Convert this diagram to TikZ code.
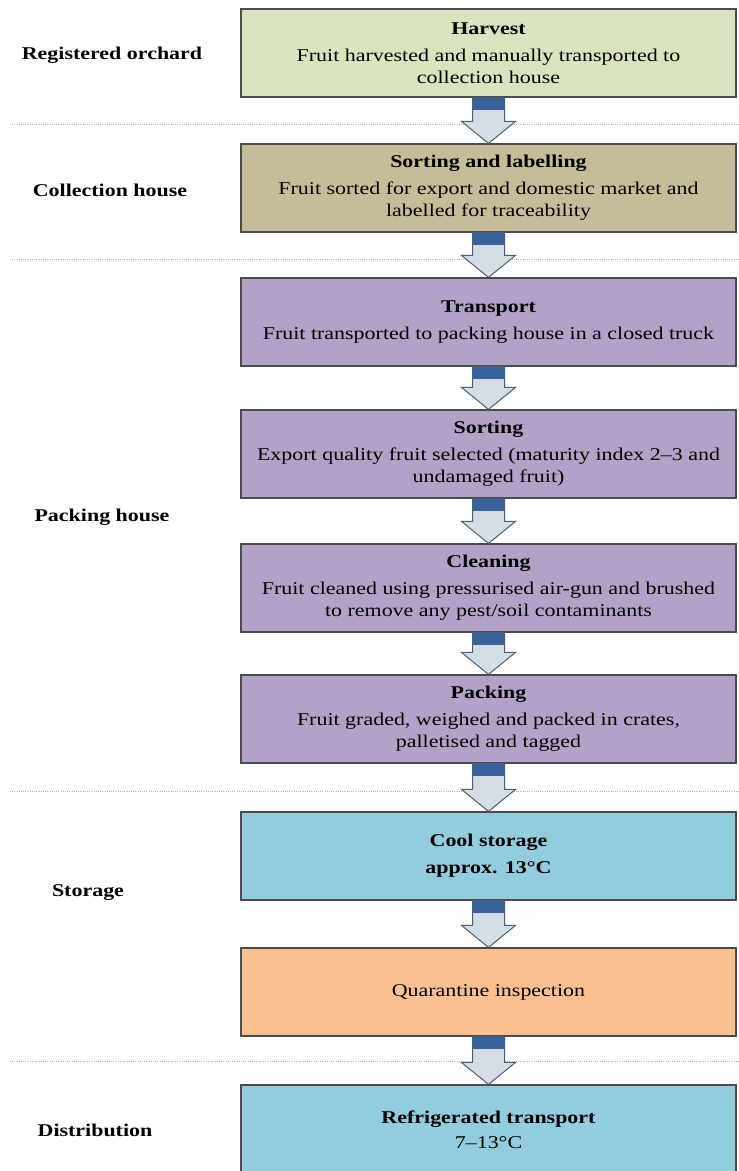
\documentclass[tikz,border=0pt]{standalone}
\usepackage{fontspec}
\setmainfont{Liberation Serif}[FakeStretch=1.22]
\usetikzlibrary{calc}
\definecolor{harvestc}{HTML}{D7E4BD}
\definecolor{collectc}{HTML}{C4BD97}
\definecolor{packc}{HTML}{B3A2C7}
\definecolor{coolc}{HTML}{93CDDD}
\definecolor{quarc}{HTML}{FAC090}
\definecolor{arrowline}{HTML}{4A6070}
\definecolor{arrowfill}{HTML}{D5DCE4}
\definecolor{arrowtopc}{HTML}{3A629A}
\tikzset{
  stage/.style={draw=black!70, line width=1.2pt, minimum width=495pt, minimum height=88pt,
    align=center, inner sep=2pt, font=\fontsize{18}{22}\selectfont},
  place/.style={font=\fontsize{18}{22}\selectfont\bfseries},
  sepline/.style={draw=gray!60, line width=0.8pt, dash pattern=on 1pt off 1.2pt},
  arrowbody/.style={draw=arrowline, fill=arrowfill, line width=1pt, line join=miter},
}
\newcommand{\stagearrow}[2]{%
  \draw[arrowbody] let \p1=(#1.south), \p2=(#2.north) in
    (\x1-16pt,\y1) -- (\x1-16pt,\y2+22pt) -- (\x1-27pt,\y2+22pt) -- (\x1,\y2)
    -- (\x1+27pt,\y2+22pt) -- (\x1+16pt,\y2+22pt) -- (\x1+16pt,\y1) -- cycle;
  \fill[arrowtopc] let \p1=(#1.south) in (\x1-15.5pt,\y1) rectangle (\x1+15.5pt,\y1-12pt);
}
\begin{document}
\begin{tikzpicture}[x=1pt, y=-1pt]
\path[fill=white, use as bounding box] (0,0) rectangle (739,1171);
% dotted separators
\draw[sepline] (10,124)--(739,124);
\draw[sepline] (10,259)--(739,259);
\draw[sepline] (10,791)--(739,791);
\draw[sepline] (10,1061)--(739,1061);
% stages
\node[stage, fill=harvestc] (harvest) at (488.5,53) {\textbf{Harvest}\\[5pt]Fruit harvested and manually transported to\\collection house};
\node[stage, fill=collectc] (labelling) at (488.5,188) {\textbf{Sorting and labelling}\\[5pt]Fruit sorted for export and domestic market and\\labelled for traceability};
\node[stage, fill=packc] (transport) at (488.5,322) {\textbf{Transport}\\[5pt]Fruit transported to packing house in a closed truck};
\node[stage, fill=packc] (sorting) at (488.5,454) {\textbf{Sorting}\\[5pt]Export quality fruit selected (maturity index 2--3 and\\undamaged fruit)};
\node[stage, fill=packc] (cleaning) at (488.5,588) {\textbf{Cleaning}\\[5pt]Fruit cleaned using pressurised air-gun and brushed\\to remove any pest/soil contaminants};
\node[stage, fill=packc] (packing) at (488.5,719) {\textbf{Packing}\\[5pt]Fruit graded, weighed and packed in crates,\\palletised and tagged};
\node[stage, fill=coolc] (storage) at (488.5,856) {\textbf{Cool storage}\\[5pt]\textbf{approx. 13°C}};
\node[stage, fill=quarc] (quarantine) at (488.5,992) {Quarantine inspection};
\node[stage, fill=coolc, minimum height=90pt] (refrig) at (488.5,1130) {\textbf{Refrigerated transport}\\[3pt]7--13°C};
% places
\node[place] (orchard) at (112,55) {Registered orchard};
\node[place] (collection) at (110,190) {Collection house};
\node[place] (packhouse) at (102,517) {Packing house};
\node[place] (storeplace) at (88,893) {Storage};
\node[place] (distribution) at (95,1130) {Distribution};
% arrows
\stagearrow{harvest}{labelling}
\stagearrow{labelling}{transport}
\stagearrow{transport}{sorting}
\stagearrow{sorting}{cleaning}
\stagearrow{cleaning}{packing}
\stagearrow{packing}{storage}
\stagearrow{storage}{quarantine}
\stagearrow{quarantine}{refrig}
\end{tikzpicture}
\end{document}
